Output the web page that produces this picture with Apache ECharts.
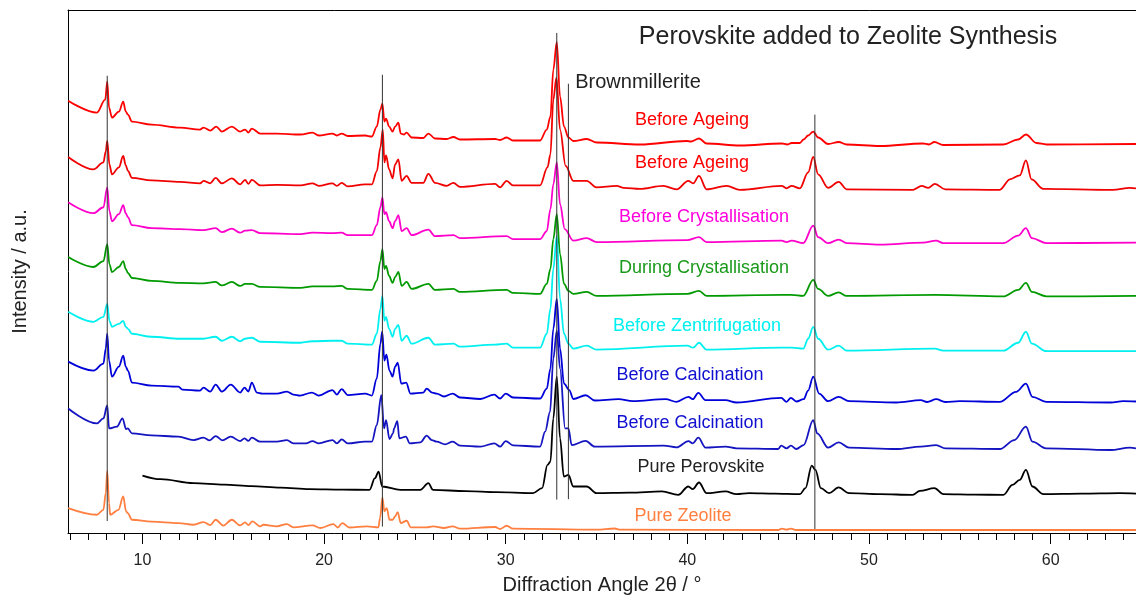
<!DOCTYPE html>
<html>
<head>
<meta charset="utf-8">
<title>Perovskite added to Zeolite Synthesis</title>
<script src="https://cdn.jsdelivr.net/npm/echarts@6/dist/echarts.min.js"></script>
<style>
  html, body { margin: 0; padding: 0; background: #fff; }
  #chart { width: 1136px; height: 600px; }
</style>
</head>
<body>
<div id="chart"></div>
<script>
// XRD patterns, stacked with a vertical offset: [2θ in degrees, intensity (a.u.)]
const beforeAgeingA = [
  [5.91,434],[7.49,422],[7.95,435],[8.06,453],[8.16,427],[8.32,417],[8.7,423],[8.94,433],[9.08,423],[9.2,420],
  [9.42,413],[10.5,410],[12.07,407],[13.17,405],[13.36,407],[13.73,404],[14.06,408],[14.37,403],[14.92,408],
  [15.38,403],[15.65,405],[15.83,402],[16.02,406],[16.48,401],[17.4,401],[18.7,400],[19.36,402],[19.7,399],
  [20.46,401],[20.7,399],[20.97,401],[21.3,398.5],[22.26,399],[22.63,398],[22.9,408],[23.1,425],[23.21,431],
  [23.32,413],[23.41,416],[23.58,408],[23.77,403],[23.91,408],[24.09,412],[24.22,401],[24.4,400],[24.54,402],
  [24.82,397],[25.46,396.5],[25.74,401],[26.11,396],[26.75,395.5],[27.12,397.5],[27.48,395],[29.41,395.5],
  [29.69,394.5],[30.05,397],[30.4,394],[31.89,394],[32.26,405],[32.46,418],[32.62,465],[32.81,493],[32.99,438],
  [33.21,408],[33.45,397],[33.72,393.5],[34.46,395.5],[35.01,392],[37.39,390],[39.96,393.5],[40.2,393],
  [40.64,396],[41.06,391],[42.9,389],[45.2,391],[45.5,390],[45.74,391.5],[46.19,391.5],[46.4,395],[46.65,399],
  [46.93,403],[47.2,397],[47.75,390.5],[48.33,392.5],[48.77,390],[50.6,388.5],[52.98,391],[53.3,390],
  [53.6,392.5],[54.08,389.5],[57.39,390],[58.21,395],[58.64,400],[59.22,391.5],[59.77,390],[64.7,390.5]
];
const beforeAgeingB = [
  [5.91,377.5],[7.3,365],[7.85,372],[7.98,383],[8.06,393.5],[8.18,370],[8.32,360],[8.7,367],[8.94,378.5],
  [9.08,369],[9.2,363.5],[9.42,356.5],[10.5,354],[12.07,352.5],[13.17,351],[13.36,353.5],[13.73,351],
  [14.03,356.5],[14.37,351],[14.92,356],[15.38,350],[15.65,354.5],[15.83,350.5],[16.02,354.5],[16.48,349],
  [17.4,349.5],[18.7,349],[19.36,351],[19.7,348.5],[20.46,351],[20.7,348.5],[20.97,351.5],[21.3,348],
  [22.26,350],[22.63,350],[22.9,363],[23.1,387],[23.23,405],[23.32,372],[23.41,379],[23.58,365],[23.77,356],
  [23.91,370],[24.09,375],[24.27,353.5],[24.54,358.5],[24.82,351.5],[25.46,351.5],[25.74,360.5],[26.11,351.5],
  [26.75,348.5],[27.12,351.5],[27.48,347.5],[29.41,350.5],[29.69,347],[30.05,353.5],[30.4,349],[31.89,349],
  [32.3,367],[32.46,380],[32.62,435],[32.79,457],[32.99,405],[33.3,368.5],[33.72,353.5],[34.46,353.5],
  [35.0,347],[36.11,348.5],[36.5,346.5],[37.39,345.5],[38.67,348.5],[39.41,345],[40.05,353.5],[40.32,351],
  [40.64,358.5],[41.06,345],[42.16,348.5],[42.89,344.5],[45.19,348.5],[45.46,346],[45.74,348.5],[46.19,346],
  [46.65,362],[46.93,377.5],[47.2,360],[47.75,346.5],[48.33,352.5],[48.77,345],[52.43,344.5],[52.9,348.5],
  [53.26,346.5],[53.63,350.5],[54.2,345],[57.2,344.5],[57.76,355],[58.3,359],[58.64,374],[58.95,355],
  [59.59,345.5],[63.42,344.5],[64.36,346.5],[64.7,346]
];
const beforeCrystallisation = [
  [5.91,332],[7.3,321],[7.85,327],[8.06,347],[8.18,323],[8.32,313],[8.7,320],[8.94,329],[9.08,321],[9.2,317],
  [9.42,309],[10.5,306],[12.07,305],[13.36,304],[14.03,306],[14.37,302],[14.92,305.5],[15.38,301.5],
  [15.65,303.5],[16.02,304],[16.48,301],[18.7,300],[19.36,301.5],[20.46,301],[20.97,301.5],[21.3,299],
  [22.63,299],[22.9,309],[23.1,327],[23.21,337],[23.32,320],[23.41,322],[23.58,313],[23.77,306],[23.91,313],
  [24.09,319],[24.27,303],[24.54,306],[24.82,299],[25.74,304.5],[26.11,298],[27.12,299],[27.48,296],
  [30.05,298],[30.4,295],[31.89,295],[32.26,303],[32.46,325],[32.62,350],[32.81,372],[32.99,330],[33.25,305],
  [33.72,293.5],[34.46,296],[35.01,292],[40.0,294],[40.64,297],[41.06,292],[45.19,293.5],[45.46,292],
  [45.74,293.5],[46.38,291],[46.93,308.5],[47.2,297],[47.75,291],[48.33,294.5],[48.77,291],[50.6,289.5],
  [52.98,291.5],[53.7,293.5],[54.08,291],[57.39,291],[58.21,298.5],[58.64,306],[58.97,296],[59.77,291],
  [64.7,291.5]
];
const duringCrystallisation = [
  [5.91,277],[7.3,267],[7.85,273],[8.06,290],[8.18,270],[8.32,262],[8.7,267],[8.94,273],[9.08,265],[9.2,261],
  [9.42,256],[10.5,253],[12.07,251],[13.36,250.5],[14.03,252],[14.37,248.5],[14.92,252],[15.38,248],
  [15.65,250],[16.02,250],[16.48,247],[18.7,246],[19.36,247.5],[20.46,247.5],[20.97,248],[21.3,245],
  [22.63,244],[22.9,253],[23.1,273],[23.21,285],[23.32,265],[23.41,268],[23.58,258],[23.77,251],[23.91,257],
  [24.09,262],[24.27,248],[24.54,252],[24.82,245],[25.74,250],[26.11,244],[27.12,245],[27.48,242],
  [30.05,244],[30.4,241],[31.89,240],[32.26,250],[32.46,265],[32.62,295],[32.81,320],[32.99,280],[33.21,250],
  [33.45,243],[33.72,240],[34.46,242],[35.01,238],[40.0,240],[40.64,243],[41.06,238],[45.2,239],[45.74,239],
  [46.38,238],[46.93,254],[47.2,245],[47.75,238],[48.33,241.5],[48.77,238],[53.63,239],[57.39,237.5],
  [58.21,244],[58.64,251],[58.97,242],[59.77,237.5],[64.7,238]
];
const beforeZentrifugation = [
  [5.91,222],[7.3,212],[7.85,217],[8.06,230],[8.18,213],[8.32,207],[8.7,210],[8.94,213],[9.08,207],[9.2,205],
  [9.42,200],[10.5,197],[12.07,195],[13.36,195],[14.03,197],[14.37,193],[14.92,197],[15.38,192.5],[15.65,195],
  [16.02,196],[16.48,192],[18.7,191],[19.36,192.5],[20.46,193],[20.97,193],[21.3,190],[22.63,189],[22.9,200],
  [23.1,225],[23.21,238],[23.32,213],[23.41,217],[23.58,205],[23.77,197],[23.91,205],[24.09,209],[24.27,193],
  [24.54,198],[24.82,190],[25.74,196],[26.11,189],[27.12,190],[27.48,187],[29.41,189],[30.05,190],[30.4,186],
  [31.89,186],[32.26,200],[32.46,225],[32.62,265],[32.81,298],[32.99,235],[33.21,200],[33.45,190],[33.72,185],
  [34.46,188],[35.01,184],[40.0,188],[40.32,186],[40.64,191],[41.06,184],[45.19,186],[45.74,186],[46.38,185],
  [46.65,195],[46.93,207],[47.2,195],[47.75,184],[48.33,188],[48.77,183],[53.63,185],[54.08,183],[57.39,183],
  [58.21,191],[58.64,202],[58.97,190],[59.77,182.5],[64.7,182.5]
];
const beforeCalcinationA = [
  [5.91,172],[7.3,163],[7.85,170],[7.98,185],[8.06,200],[8.16,173],[8.32,157],[8.7,167],[8.94,178],[9.08,167],
  [9.2,163],[9.42,151],[10.5,148],[11.98,147],[12.2,144],[13.17,143],[13.36,146],[13.73,142],[14.03,149],
  [14.37,142],[14.86,149],[15.38,141],[15.62,146],[15.83,142],[16.02,151],[16.3,141],[16.6,140],[17.4,140],
  [17.95,142],[18.31,139],[18.68,138],[19.33,141],[19.7,138],[20.46,143.5],[20.7,139],[20.97,144.5],
  [21.3,138.5],[22.26,140],[22.63,138],[22.9,155],[23.1,190],[23.2,202],[23.32,173],[23.43,179],[23.6,163],
  [23.77,157],[23.91,167],[24.05,171],[24.25,150],[24.52,151],[24.75,140],[25.46,141],[25.65,145],[25.95,141],
  [26.2,140],[26.6,137],[27.08,140],[27.48,136],[28.6,134.5],[29.37,139],[29.69,135],[30.0,140],[30.4,136],
  [31.89,135],[32.26,145],[32.46,165],[32.62,205],[32.81,235],[32.99,185],[33.21,150],[33.5,143.5],
  [33.72,134.5],[34.4,138.3],[34.9,133],[36.2,134.3],[37.0,132.3],[38.8,134.3],[39.4,131.7],[40.06,136.7],
  [40.3,134.3],[40.6,140.7],[41.0,133.3],[42.1,133.3],[42.7,131],[45.17,135.7],[45.46,131.7],[45.7,135.7],
  [46.0,132],[46.4,134.3],[46.65,143],[46.93,157],[47.25,140],[47.75,132.3],[48.33,136.7],[48.9,132.3],
  [51.5,131],[52.85,133.3],[53.2,131.5],[53.7,134.3],[54.2,131.5],[55.0,132.3],[57.2,131.7],[58.1,141.7],
  [58.64,150],[59.0,136.7],[59.75,131.7],[63.3,131],[64.0,132.3],[64.7,132]
];
const beforeCalcinationB = [
  [5.91,125],[7.49,110],[7.85,115],[8.06,128],[8.16,105],[8.59,106.7],[8.9,115],[9.1,104.3],[9.19,105],
  [9.42,100],[10.5,98],[11.98,96.7],[12.81,93.3],[13.36,95.7],[13.7,93],[14.03,97.3],[14.4,93],[14.86,96.7],
  [15.38,92.3],[15.62,95],[15.83,92.5],[16.02,95.7],[16.48,91.7],[17.4,91.7],[17.95,93.3],[18.31,90],
  [19.0,90],[19.36,92.3],[19.7,90],[20.46,93.3],[20.7,90],[20.97,94],[21.3,90],[22.26,91.7],[22.63,91.7],
  [22.9,108.3],[23.15,138.3],[23.3,105],[23.41,113.3],[23.6,94.3],[23.8,100],[23.85,105],[24.03,112.3],
  [24.14,95],[24.5,96.7],[24.72,90],[25.3,91],[25.65,97.7],[25.93,93.3],[26.2,91.7],[26.66,89],[27.08,91.7],
  [27.48,87.7],[28.6,86.7],[29.37,90],[29.7,86.7],[30.0,92.3],[30.4,88],[31.89,86.7],[32.17,101.7],
  [32.44,121.7],[32.62,175],[32.81,203],[32.99,165],[33.27,105],[33.45,105],[33.63,88.3],[34.4,92.5],
  [34.9,86.7],[38.7,87.7],[39.4,86],[40.06,92.3],[40.3,90],[40.6,95.7],[41.0,85.7],[42.1,86.7],[42.7,85],
  [45.0,84.3],[45.17,87.7],[45.46,85],[45.7,87.7],[46.0,84.3],[46.4,88.3],[46.93,113.3],[47.15,100],
  [47.75,85.7],[48.33,91],[48.9,85.7],[51.5,84.3],[52.85,86.7],[53.7,88.3],[54.2,85],[57.2,84.3],[58.0,93.3],
  [58.64,106.7],[59.0,91.7],[59.75,85],[63.3,83.3],[64.36,85.7],[64.7,85]
];
const purePerovskite = [
  [10.0,57.7],[11.0,54],[12.81,50],[14.5,48.5],[16.0,47],[17.6,45.5],[19.2,44],[21.0,43.5],[22.5,43.3],
  [22.8,55],[23.0,61.7],[23.2,46.7],[24.2,43.3],[25.3,43.3],[25.74,50],[26.0,43.3],[27.8,42],[29.5,41],
  [31.5,40],[32.0,45],[32.3,68.3],[32.46,71.7],[32.62,115],[32.81,157],[32.99,95],[33.2,56.7],[33.45,58.3],
  [33.72,46.7],[34.46,46.7],[35.0,40],[36.8,40.5],[38.6,41.7],[39.5,38.3],[40.05,46.7],[40.3,44],[40.64,50.7],
  [41.06,40],[42.1,41.7],[42.7,39],[43.4,40],[44.8,39.5],[46.2,39],[46.5,45],[46.85,67.7],[47.05,63.3],
  [47.35,45],[47.8,40],[48.33,45.7],[48.9,40],[50.6,39],[52.4,38.3],[52.8,42.3],[53.6,45],[54.1,39],
  [55.8,38.5],[57.4,38.3],[57.9,48.3],[58.3,53.3],[58.64,63.3],[59.0,46.7],[59.6,39],[61.7,39.5],[63.8,40],
  [64.7,39.5]
];
const pureZeolite = [
  [5.91,25],[7.49,18.3],[7.85,23.3],[7.98,40],[8.06,62.3],[8.16,30],[8.22,18.3],[8.68,23.3],[8.94,36.7],
  [9.1,21.7],[9.19,20],[9.42,13.3],[10.5,11.5],[11.98,10],[12.81,8.3],[13.36,11],[13.73,8],[14.03,13.3],
  [14.45,7.5],[14.92,13.3],[15.38,7.7],[15.65,10.7],[15.83,8],[16.05,11.7],[16.48,6.7],[16.66,8.3],
  [17.4,6.7],[17.95,9],[18.31,5.7],[19.36,7.7],[19.8,5],[20.51,9],[20.75,5.5],[21.0,10],[21.4,5.5],
  [22.35,6.7],[22.99,5.7],[23.08,15],[23.21,35.7],[23.32,21.7],[23.45,25],[23.6,13.3],[23.77,13.3],
  [23.91,16.7],[24.05,21],[24.22,10],[24.55,12.3],[24.77,5.7],[25.65,5.7],[26.0,6.7],[26.6,5],[27.08,6.7],
  [27.48,4.3],[29.41,6],[29.69,4],[30.05,7.3],[30.4,4.3],[35.0,3.3],[36.0,4.5],[36.3,3.3],[45.0,3],
  [45.2,4.3],[45.46,3.3],[45.7,4.3],[46.0,3],[64.7,3]
];

// Reference reflections: position (2θ) and the span each marker line covers
const refPositions = [8.06, 23.21, 32.81, 33.45, 47.02];
const refLow = [12, 6.5, 33.5, 34, 4];
const refHigh = [459, 460, 502, 451, 420];

// Axis ticks
const majorTicks = [10, 20, 30, 40, 50, 60];
const minorTicks = [6, 7, 8, 9, 11, 12, 13, 14, 15, 16, 17, 18, 19, 21, 22, 23, 24, 25, 26, 27, 28, 29,
  31, 32, 33, 34, 35, 36, 37, 38, 39, 41, 42, 43, 44, 45, 46, 47, 48, 49, 51, 52, 53, 54, 55, 56, 57, 58, 59,
  61, 62, 63, 64];

const traces = [
  { name: 'Before Ageing', data: beforeAgeingA, color: '#ff0000' },
  { name: 'Before Ageing ', data: beforeAgeingB, color: '#f00000' },
  { name: 'Before Crystallisation', data: beforeCrystallisation, color: '#ff00cc' },
  { name: 'During Crystallisation', data: duringCrystallisation, color: '#009a00' },
  { name: 'Before Zentrifugation', data: beforeZentrifugation, color: '#00f0f0' },
  { name: 'Before Calcination', data: beforeCalcinationA, color: '#0000d8' },
  { name: 'Before Calcination ', data: beforeCalcinationB, color: '#1414c0' },
  { name: 'Pure Perovskite', data: purePerovskite, color: '#000000' },
  { name: 'Pure Zeolite', data: pureZeolite, color: '#ff7f40' }
];

const FONT = '"Liberation Sans", Arial, sans-serif';
const chart = echarts.init(document.getElementById('chart'), null, { renderer: 'canvas' });

const traceSeries = traces.map(t => ({
  name: t.name,
  type: 'line',
  data: t.data,
  showSymbol: false,
  smooth: 0.35,
  smoothMonotone: 'x',
  lineStyle: { color: t.color, width: 1.8 },
  itemStyle: { color: t.color },
  z: 2,
  silent: true
}));

const refSeries = refPositions.map((x, i) => ({
  type: 'line',
  data: [[x, refLow[i]], [x, refHigh[i]]],
  showSymbol: false,
  lineStyle: { color: '#333333', width: 1 },
  z: 5,
  silent: true
}));

function label(text, x, y, color, size) {
  return {
    type: 'text', x: x, y: y, z: 10,
    style: { text: text, fill: color, font: size + 'px ' + FONT, textAlign: 'center', textVerticalAlign: 'middle' }
  };
}

chart.setOption({
  animation: false,
  backgroundColor: '#ffffff',
  grid: { left: 68, right: 0, top: 10, bottom: 65, containLabel: false },
  xAxis: [
    {
      type: 'value', min: 5.9, max: 64.7, position: 'bottom',
      name: 'Diffraction Angle 2θ / °', nameLocation: 'middle', nameGap: 42,
      nameTextStyle: { fontFamily: FONT, fontSize: 20, color: '#222' },
      axisLine: { show: true, lineStyle: { color: '#000', width: 1 } },
      axisTick: { show: true, inside: false, length: 11, customValues: majorTicks, lineStyle: { color: '#000' } },
      axisLabel: { show: true, customValues: majorTicks, margin: 20, fontFamily: FONT, fontSize: 16, color: '#222' },
      splitLine: { show: false }
    },
    {
      type: 'value', min: 5.9, max: 64.7, position: 'bottom',
      axisLine: { show: false },
      axisTick: { show: true, inside: false, length: 7, customValues: minorTicks, lineStyle: { color: '#000' } },
      axisLabel: { show: false },
      splitLine: { show: false }
    },
    {
      type: 'value', min: 5.9, max: 64.7, position: 'top',
      axisLine: { show: true, lineStyle: { color: '#000', width: 1 } },
      axisTick: { show: false }, axisLabel: { show: false }, splitLine: { show: false }
    }
  ],
  yAxis: {
    type: 'value', min: 0, max: 525,
    name: 'Intensity / a.u.', nameLocation: 'middle', nameGap: 38,
    nameTextStyle: { fontFamily: FONT, fontSize: 20, color: '#222' },
    axisLine: { show: true, lineStyle: { color: '#000', width: 1 } },
    axisTick: { show: false }, axisLabel: { show: false }, splitLine: { show: false }
  },
  series: traceSeries.concat(refSeries),
  graphic: [
    label('Perovskite added to Zeolite Synthesis', 848, 37, '#222222', 25),
    label('Brownmillerite', 638, 82, '#222222', 20),
    label('Before Ageing', 692, 120, '#ff0000', 18),
    label('Before Ageing', 692, 163, '#ff0000', 18),
    label('Before Crystallisation', 704, 217, '#ff00dd', 18),
    label('During Crystallisation', 704, 268, '#1a9a1a', 18),
    label('Before Zentrifugation', 697, 326, '#00f0f0', 18),
    label('Before Calcination', 690, 375, '#1010d0', 18),
    label('Before Calcination', 690, 423, '#1010d0', 18),
    label('Pure Perovskite', 701, 467, '#222222', 18),
    label('Pure Zeolite', 683, 516, '#ff7f40', 18)
  ]
});
</script>
</body>
</html>
